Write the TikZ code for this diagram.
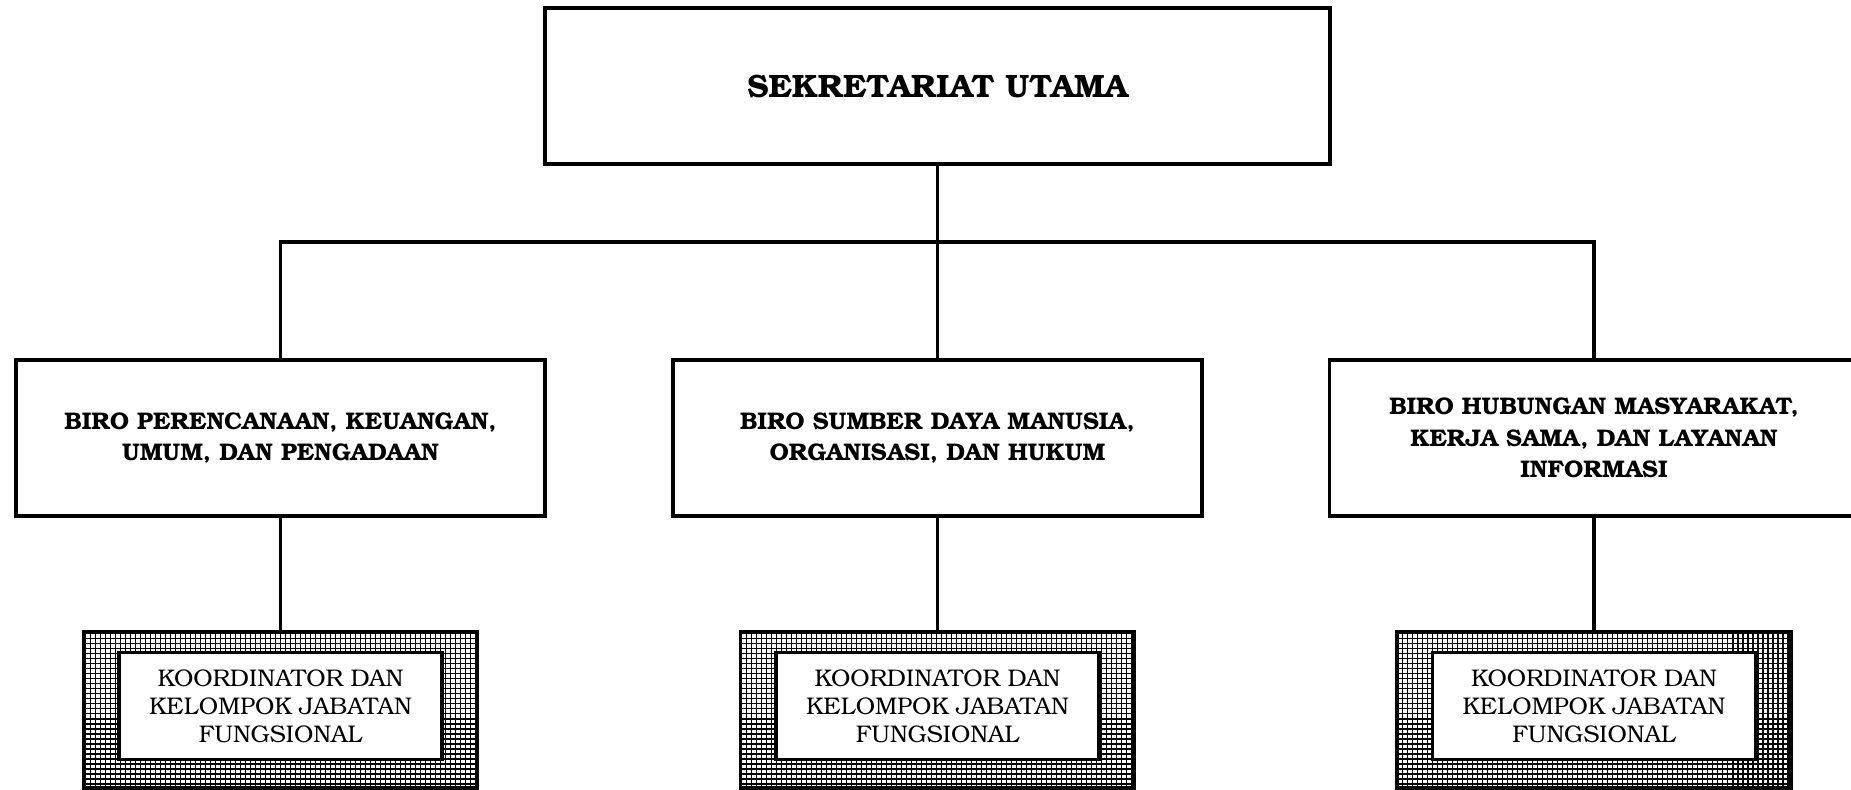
\documentclass[tikz,border=0pt]{standalone}
\usepackage{fontspec}
\setmainfont{TeX Gyre Bonum}
\usetikzlibrary{patterns}
\pgfdeclarepatternformonly{kisi}{\pgfqpoint{-1pt}{-1pt}}{\pgfqpoint{4pt}{4pt}}{\pgfqpoint{2.85pt}{2.85pt}}{
	\pgfsetlinewidth{0.7pt}
	\pgfpathmoveto{\pgfqpoint{0pt}{0pt}}\pgfpathlineto{\pgfqpoint{0pt}{2.86pt}}
	\pgfpathmoveto{\pgfqpoint{0pt}{0pt}}\pgfpathlineto{\pgfqpoint{2.86pt}{0pt}}
	\pgfusepath{stroke}}
\tikzset{
  kotak/.style={draw, line width=1.9pt, align=center, inner sep=0pt},
  utama/.style={kotak, minimum width=15.7cm, minimum height=3.12cm, font=\bfseries\fontsize{18.4}{22}\selectfont},
  biro/.style={kotak, minimum width=10.58cm, minimum height=3.12cm, font=\bfseries\fontsize{13.7}{18}\selectfont},
  arsir/.style={draw, line width=1.9pt, pattern=kisi, minimum width=7.88cm, minimum height=3.12cm, inner sep=0pt},
  fungsi/.style={kotak, fill=white, minimum width=6.46cm, minimum height=2.14cm, font=\fontsize{13.7}{16}\selectfont},
  garis/.style={line width=1.9pt}
}
\begin{document}
\begin{tikzpicture}
	\useasboundingbox (0,0) rectangle (37.02,15.78);
	% les boites
	\node[utama] (sek) at (18.75,14.06) {SEKRETARIAT UTAMA};
	\node[biro] (b1) at (5.61,7.02) {BIRO PERENCANAAN, KEUANGAN,\\UMUM, DAN PENGADAAN};
	\node[biro] (b2) at (18.75,7.02) {BIRO SUMBER DAYA MANUSIA,\\ORGANISASI, DAN HUKUM};
	\node[biro] (b3) at (31.88,7.02) {BIRO HUBUNGAN MASYARAKAT,\\KERJA SAMA, DAN LAYANAN\\INFORMASI};
	\foreach \i/\x in {1/5.61, 2/18.75, 3/31.88} {
		\node[arsir] (k\i) at (\x,1.58) {};
		\node[fungsi] (f\i) at (\x,1.66) {KOORDINATOR DAN\\KELOMPOK JABATAN\\FUNGSIONAL};
	}
	% les lignes
	\coordinate (bus) at (18.75,10.94);
	\draw[garis] (sek.south) -- (bus);
	\draw[garis] (b1.north) |- (bus) -| (b3.north);
	\draw[garis] (bus) -- (b2.north);
	\foreach \i in {1,2,3}
		\draw[garis] (b\i.south) -- (k\i.north);
\end{tikzpicture}
\end{document}
